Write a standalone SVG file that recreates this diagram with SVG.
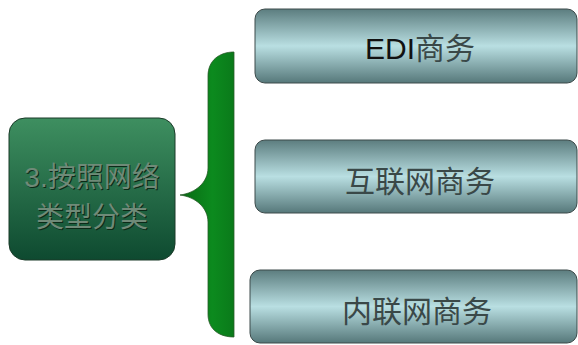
<svg xmlns="http://www.w3.org/2000/svg" width="578" height="345" viewBox="0 0 578 345">
<style>
.t{font-family:"Liberation Sans","Noto Sans CJK SC",sans-serif;text-anchor:middle}
.lt{font-size:28px;fill:#6f8a78}
.ls{font-size:28px;fill:#0c2a18}
.rt{font-size:30px;fill:#3a4848}
.box{fill:url(#gb);stroke:#3c4a4a;stroke-width:1}
</style>
<defs>
<linearGradient id="gg" x1="0" y1="0" x2="0" y2="1">
<stop offset="0" stop-color="#3e8f60"/>
<stop offset="1" stop-color="#0e4a30"/>
</linearGradient>
<linearGradient id="gb" x1="0" y1="0" x2="0" y2="1">
<stop offset="0" stop-color="#5c7d7f"/>
<stop offset="0.5" stop-color="#b9dfe2"/>
<stop offset="1" stop-color="#56787a"/>
</linearGradient>
<linearGradient id="gbr" x1="0" y1="0" x2="1" y2="0">
<stop offset="0" stop-color="#0a6a14"/>
<stop offset="0.6" stop-color="#0c8a1e"/>
<stop offset="1" stop-color="#0a7a1a"/>
</linearGradient>
</defs>
<rect width="578" height="345" fill="#ffffff"/>
<g id="connectors">
<path d="M234,52 L234,337 C220,337 208,330 208,314 L208,222 C208,208 196,197 180,195 C196,193 208,182 208,168 L208,76 C208,60 220,52 234,52 Z" fill="url(#gbr)" stroke="#2a5a2a" stroke-width="0.8"/>
</g>
<g id="node-root">
<rect x="9" y="118" width="166" height="142" rx="16" fill="url(#gg)" stroke="#1a3a28" stroke-width="1"/>
<text class="t ls" x="93" y="188">3.按照网络</text>
<text class="t ls" x="93" y="228">类型分类</text>
<text class="t lt" x="92" y="187">3.按照网络</text>
<text class="t lt" x="92" y="227">类型分类</text>
</g>
<g id="node-edi">
<rect class="box" x="255" y="9" width="322" height="74" rx="10"/>
<text class="t rt" x="420" y="59"><tspan fill="#111">EDI</tspan>商务</text>
</g>
<g id="node-internet">
<rect class="box" x="255" y="140" width="322" height="73" rx="10"/>
<text class="t rt" x="420" y="192">互联网商务</text>
</g>
<g id="node-intranet">
<rect class="box" x="250" y="270" width="327" height="73" rx="10"/>
<text class="t rt" x="417" y="322">内联网商务</text>
</g>
</svg>
